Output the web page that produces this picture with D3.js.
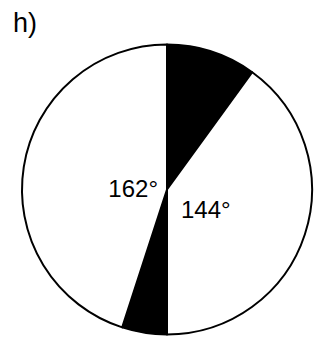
<!DOCTYPE html>
<html>
<head>
<meta charset="utf-8">
<script src="https://cdn.jsdelivr.net/npm/d3@7"></script>
<style>
  html, body { margin: 0; padding: 0; background: #fff; }
  text { font-family: "Liberation Sans", Arial, sans-serif; fill: #000; }
</style>
</head>
<body>
<div id="chart"></div>
<script>
const width = 318;
const height = 338;

// slices clockwise from the top
const angles = [36, 144, 18, 162];
const fills = ['black', 'white', 'black', 'white'];
const labels = ['', '144°', '', '162°'];

const cx = 167, cy = 189.5, radius = 145;

const svg = d3.select('#chart')
    .append('svg')
    .attr('width', width)
    .attr('height', height);

svg.append('text')
    .attr('x', 13)
    .attr('y', 32)
    .style('font-size', '27px')
    .text('h)');

const pie = d3.pie().sort(null).value(d => d);
const arc = d3.arc().innerRadius(0).outerRadius(radius);

const g = svg.append('g').attr('transform', `translate(${cx},${cy})`);

g.selectAll('path')
    .data(pie(angles))
    .join('path')
    .attr('d', arc)
    .attr('fill', (d, i) => fills[i])
    .attr('stroke', 'black')
    .attr('stroke-width', 2)
    .attr('stroke-linejoin', 'round');

// labels next to the centre
const labelPos = { '144°': { x: 14, y: 28, anchor: 'start' }, '162°': { x: -9, y: 7, anchor: 'end' } };
g.selectAll('text.lbl')
    .data(labels.filter(d => d !== ''))
    .join('text')
    .attr('class', 'lbl')
    .attr('x', d => labelPos[d].x)
    .attr('y', d => labelPos[d].y)
    .attr('text-anchor', d => labelPos[d].anchor)
    .style('font-size', '24px')
    .text(d => d);
</script>
</body>
</html>
